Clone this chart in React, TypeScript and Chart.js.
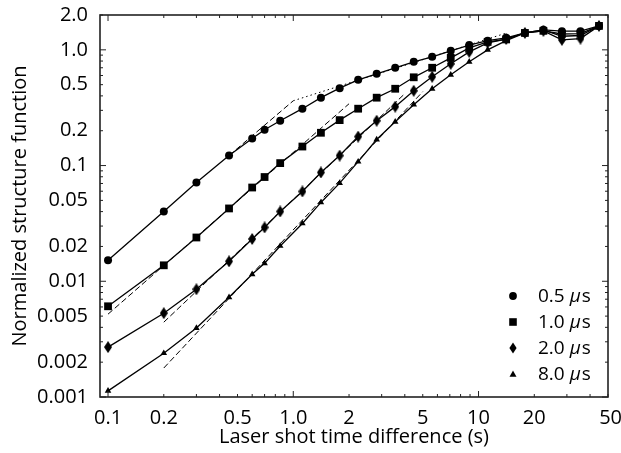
import React, { useEffect, useRef } from 'react';
import { Chart, registerables } from 'chart.js';

Chart.register(...registerables);

const FONT = '"Open Sans", sans-serif';

// Laser shot time difference (s)
const timeDiff = [0.1, 0.2, 0.3, 0.45, 0.6, 0.7, 0.85, 1.12, 1.41, 1.78, 2.24, 2.82, 3.55, 4.47, 5.62, 7.08, 8.91, 11.2, 14.1, 17.8, 22.4, 28.2, 35.5, 44.7];
// Normalized structure function for each gate
const sf05 = [0.0152, 0.0401, 0.0714, 0.122, 0.171, 0.204, 0.244, 0.31, 0.386, 0.466, 0.551, 0.621, 0.7, 0.788, 0.871, 0.98, 1.1, 1.2, 1.27, 1.4, 1.49, 1.45, 1.45, 1.61];
const sf10 = [0.00608, 0.01374, 0.0239, 0.0426, 0.0646, 0.0796, 0.105, 0.146, 0.192, 0.247, 0.31, 0.386, 0.461, 0.579, 0.7, 0.853, 1.04, 1.17, 1.23, 1.4, 1.46, 1.37, 1.38, 1.61];
const sf20 = [0.0027, 0.0053, 0.00853, 0.01487, 0.0232, 0.0292, 0.0401, 0.0597, 0.0871, 0.122, 0.178, 0.244, 0.323, 0.443, 0.585, 0.757, 0.961, 1.15, 1.24, 1.4, 1.46, 1.22, 1.25, 1.61];
const sf80 = [0.00113, 0.00239, 0.00394, 0.00728, 0.0115, 0.0143, 0.0202, 0.0316, 0.048, 0.0705, 0.108, 0.168, 0.239, 0.336, 0.461, 0.609, 0.788, 1.0, 1.2, 1.4, 1.49, 1.31, 1.33, 1.61];

const seriesLabels = ['0.5', '1.0', '2.0', '8.0'];

// Fit lines
const fit05DashX = [0.45, 1.0];
const fit05DashY = [0.122, 0.363];
const fit05DotX = [1.0, 14.2];
const fit05DotY = [0.363, 1.4];
const fit10X = [0.1, 2.0];
const fit10Y = [0.0052, 0.342];
const fit20X = [0.2, 4.0];
const fit20Y = [0.00443, 0.418];
const fit80X = [0.2, 5.0];
const fit80Y = [0.00178, 0.435];

const xTicks = [0.1, 0.2, 0.5, 1, 2, 5, 10, 20, 50];
const xTickLabels = ['0.1', '0.2', '0.5', '1.0', '2', '5', '10', '20', ' 50'];
const yTicks = [0.001, 0.002, 0.005, 0.01, 0.02, 0.05, 0.1, 0.2, 0.5, 1, 2];
const yTickLabels = ['0.001', '0.002', '0.005', '0.01', '0.02', '0.05', '0.1', '0.2', '0.5', '1.0', '2.0'];

const pts = (xs: number[], ys: number[]) => xs.map((x, i) => ({ x, y: ys[i] }));
const findLabel = (ticks: number[], labels: string[], v: number) => {
  const i = ticks.findIndex((t) => Math.abs(t / v - 1) < 1e-6);
  return i >= 0 ? labels[i] : '';
};

function makeDiamond(w: number, h: number) {
  const c = document.createElement('canvas');
  c.width = w;
  c.height = h;
  const g = c.getContext('2d')!;
  g.fillStyle = '#000';
  g.beginPath();
  g.moveTo(w / 2, 0);
  g.lineTo(w, h / 2);
  g.lineTo(w / 2, h);
  g.lineTo(0, h / 2);
  g.closePath();
  g.fill();
  return c;
}

const framePlugin = {
  id: 'frame',
  afterDatasetsDraw(chart: any) {
    const { ctx, chartArea } = chart;
    const { left, right, top, bottom } = chartArea;
    const xs = chart.scales.x;
    const ys = chart.scales.y;
    ctx.save();
    ctx.strokeStyle = '#222';
    ctx.lineWidth = 1;
    const line = (a: number, b: number, c: number, d: number) => {
      ctx.beginPath();
      ctx.moveTo(a, b);
      ctx.lineTo(c, d);
      ctx.stroke();
    };
    for (let d = -3; d <= 2; d++) {
      for (let m = 1; m <= 9; m++) {
        const v = m * Math.pow(10, d);
        if (v >= xs.min * 0.9999 && v <= xs.max * 1.0001) {
          const px = xs.getPixelForValue(v);
          const len = m === 1 ? 6 : 3;
          line(px, bottom, px, bottom - len);
          line(px, top, px, top + len);
        }
        if (v >= ys.min * 0.9999 && v <= ys.max * 1.0001) {
          const py = ys.getPixelForValue(v);
          const len = m === 1 ? 6 : 3;
          line(left, py, left + len, py);
          line(right, py, right - len, py);
        }
      }
    }
    ctx.lineWidth = 1.6;
    ctx.strokeRect(left, top, right - left, bottom - top);

    // legend
    const lx = 513;
    const tx = 538;
    const rows = [296, 322, 348, 374];
    ctx.fillStyle = '#000';
    ctx.textBaseline = 'middle';
    ctx.textAlign = 'left';
    rows.forEach((ry, i) => {
      ctx.beginPath();
      if (i === 0) {
        ctx.arc(lx, ry, 3.9, 0, Math.PI * 2);
      } else if (i === 1) {
        ctx.rect(lx - 3.8, ry - 3.8, 7.6, 7.6);
      } else if (i === 2) {
        ctx.moveTo(lx, ry - 5.5);
        ctx.lineTo(lx + 3.6, ry);
        ctx.lineTo(lx, ry + 5.5);
        ctx.lineTo(lx - 3.6, ry);
        ctx.closePath();
      } else {
        ctx.moveTo(lx, ry - 3.4);
        ctx.lineTo(lx + 3.5, ry + 2.7);
        ctx.lineTo(lx - 3.5, ry + 2.7);
        ctx.closePath();
      }
      ctx.fill();
      ctx.font = `19px ${FONT}`;
      const a = seriesLabels[i] + ' ';
      ctx.fillText(a, tx, ry + 1);
      let w = ctx.measureText(a).width;
      ctx.font = `italic 19px ${FONT}`;
      ctx.fillText('\u00b5', tx + w, ry + 1);
      w += ctx.measureText('\u00b5').width + 1;
      ctx.font = `19px ${FONT}`;
      ctx.fillText('s', tx + w, ry + 1);
    });
    ctx.restore();
  },
};

export default function App() {
  const ref = useRef<HTMLCanvasElement | null>(null);
  useEffect(() => {
    if (!ref.current) return;
    const diamond = makeDiamond(8, 12);
    const markerBase = {
      showLine: true,
      borderColor: '#000',
      borderWidth: 1.3,
      pointBackgroundColor: '#000',
      pointBorderColor: '#000',
      pointBorderWidth: 0,
      fill: false,
    };
    const fitBase = {
      showLine: true,
      borderColor: '#000',
      borderWidth: 1,
      pointRadius: 0,
      fill: false,
    };
    const chart = new Chart(ref.current, {
      type: 'scatter',
      data: {
        datasets: [
          { ...markerBase, label: '0.5 µs', data: pts(timeDiff, sf05), pointStyle: 'circle', pointRadius: 4 },
          { ...markerBase, label: '1.0 µs', data: pts(timeDiff, sf10), pointStyle: 'rect', pointRadius: 5.5 },
          { ...markerBase, label: '2.0 µs', data: pts(timeDiff, sf20), pointStyle: diamond as any, pointRadius: 5 },
          { ...markerBase, label: '8.0 µs', data: pts(timeDiff, sf80), pointStyle: 'triangle', pointRadius: 3.8 },
          { ...fitBase, label: 'fit a', data: pts(fit05DashX, fit05DashY), borderDash: [6, 3] },
          { ...fitBase, label: 'fit b', data: pts(fit05DotX, fit05DotY), borderDash: [1.5, 3] },
          { ...fitBase, label: 'fit c', data: pts(fit10X, fit10Y), borderDash: [6, 3] },
          { ...fitBase, label: 'fit d', data: pts(fit20X, fit20Y), borderDash: [6, 3] },
          { ...fitBase, label: 'fit e', data: pts(fit80X, fit80Y), borderDash: [6, 3] },
        ],
      },
      options: {
        animation: false,
        responsive: true,
        maintainAspectRatio: false,
        layout: { padding: { top: 15, right: 13, left: 0, bottom: 0 } },
        plugins: { legend: { display: false }, tooltip: { enabled: false } },
        scales: {
          x: {
            type: 'logarithmic',
            min: 0.0905,
            max: 50,
            afterBuildTicks: (s: any) => {
              s.ticks = xTicks.map((v) => ({ value: v }));
            },
            afterFit: (s: any) => {
              s.height = 56;
              s.paddingLeft = 0;
              s.paddingRight = 0;
            },
            grid: { display: false, drawTicks: false },
            border: { display: false },
            ticks: {
              autoSkip: false,
              maxRotation: 0,
              padding: 9,
              color: '#000',
              font: { family: FONT, size: 20 },
              callback: (v: any) => findLabel(xTicks, xTickLabels, Number(v)),
            },
            title: {
              display: true,
              text: 'Laser shot time difference (s)',
              color: '#000',
              font: { family: FONT, size: 20 },
              padding: { top: 0, bottom: 4 },
            },
          },
          y: {
            type: 'logarithmic',
            min: 0.001,
            max: 2,
            afterBuildTicks: (s: any) => {
              s.ticks = yTicks.map((v) => ({ value: v }));
            },
            afterFit: (s: any) => {
              s.width = 100;
              s.paddingTop = 0;
              s.paddingBottom = 0;
            },
            grid: { display: false, drawTicks: false },
            border: { display: false },
            ticks: {
              autoSkip: false,
              padding: 12,
              color: '#000',
              font: { family: FONT, size: 20 },
              callback: (v: any) => findLabel(yTicks, yTickLabels, Number(v)),
            },
            title: {
              display: true,
              text: 'Normalized structure function',
              color: '#000',
              font: { family: FONT, size: 20 },
              padding: { top: 8, bottom: 0 },
            },
          },
        },
      },
      plugins: [framePlugin],
    });
    return () => chart.destroy();
  }, []);
  return (
    <div style={{ position: 'fixed', left: 0, top: 0, width: 621, height: 453, background: '#fff' }}>
      <canvas ref={ref} />
    </div>
  );
}
